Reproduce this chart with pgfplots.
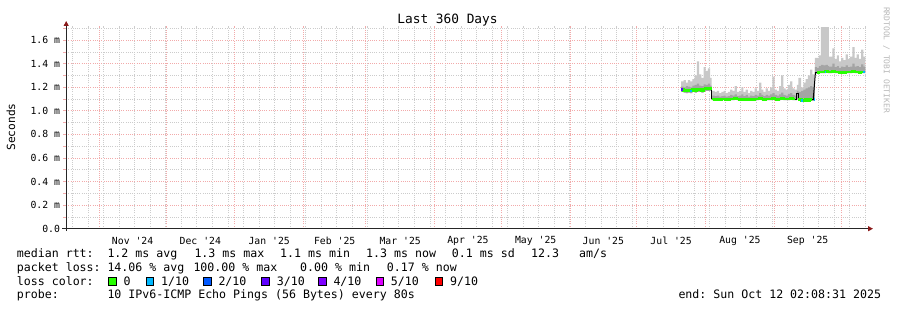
\documentclass[border=0pt]{standalone}
\usepackage{pgfplots}
\pgfplotsset{compat=1.18}
\usepackage{pgfplotstable}
\usepgfplotslibrary{fillbetween}
\usetikzlibrary{arrows.meta}
\usepackage{fontspec}
\setmonofont{DejaVu Sans Mono}
\renewcommand{\familydefault}{\ttdefault}

\definecolor{lzero}{HTML}{26FF00}
\definecolor{lone}{HTML}{00B8FF}
\definecolor{ltwo}{HTML}{0059FF}
\definecolor{lthree}{HTML}{5E00FF}
\definecolor{lfour}{HTML}{7E00FF}
\definecolor{lfive}{HTML}{DD00FF}
\definecolor{lnine}{HTML}{FF0000}
\definecolor{mgrid}{HTML}{F2AAAA}
\definecolor{mingrid}{HTML}{CCCCCC}
\definecolor{smokeL}{HTML}{C8C8C8}
\definecolor{smokeM}{HTML}{A4A4A4}
\definecolor{arrowc}{HTML}{8B1A1A}
\definecolor{wmark}{HTML}{B8B8B8}

\newcommand\lf{\fontsize{11.6bp}{13bp}\selectfont}
\newcommand\tf{\fontsize{9.8bp}{11bp}\selectfont}

% day 0 = 17 Oct 2024 02:08
\pgfplotstableread{
d lo med q hi
276.9 1.160 1.180 1.205 1.25
278 1.155 1.175 1.200 1.26
279 1.150 1.170 1.210 1.24
280 1.155 1.175 1.205 1.26
281 1.150 1.170 1.200 1.25
282 1.160 1.180 1.215 1.27
283 1.155 1.175 1.220 1.30
284 1.160 1.180 1.230 1.42
285 1.160 1.180 1.215 1.31
286 1.155 1.175 1.210 1.28
287 1.165 1.185 1.225 1.37
288 1.170 1.190 1.220 1.34
289 1.170 1.190 1.230 1.36
290 1.170 1.190 1.215 1.28
290.6 1.170 1.190 1.215 1.28
}\segA
\pgfplotstableread{
d lo med q hi
290.6 1.090 1.100 1.130 1.17
292 1.085 1.095 1.125 1.16
293 1.090 1.100 1.130 1.17
294 1.085 1.095 1.120 1.15
295 1.090 1.100 1.125 1.16
296 1.090 1.100 1.130 1.17
297 1.085 1.095 1.120 1.15
298 1.085 1.095 1.125 1.16
299 1.090 1.100 1.135 1.18
300 1.090 1.100 1.130 1.17
301 1.095 1.105 1.140 1.21
302 1.090 1.100 1.125 1.16
303 1.085 1.095 1.130 1.17
304 1.090 1.100 1.140 1.20
305 1.085 1.095 1.125 1.16
306 1.090 1.100 1.135 1.18
307 1.085 1.095 1.120 1.15
308 1.090 1.100 1.130 1.17
309 1.085 1.095 1.125 1.16
310 1.090 1.100 1.135 1.19
311 1.090 1.100 1.130 1.17
312 1.095 1.105 1.150 1.24
313 1.090 1.100 1.135 1.18
314 1.085 1.095 1.125 1.16
315 1.090 1.100 1.135 1.19
316 1.090 1.100 1.130 1.17
317 1.090 1.100 1.140 1.20
318 1.095 1.105 1.150 1.29
319 1.090 1.100 1.135 1.18
320 1.085 1.095 1.130 1.17
321 1.090 1.100 1.140 1.21
322 1.095 1.105 1.155 1.30
323 1.090 1.100 1.135 1.19
324 1.090 1.100 1.130 1.18
325 1.090 1.100 1.145 1.22
326 1.095 1.105 1.150 1.25
327 1.090 1.100 1.135 1.19
328 1.090 1.100 1.130 1.18
329 1.100 1.150 1.170 1.22
329.7 1.085 1.095 1.160 1.28
331 1.080 1.090 1.170 1.20
332 1.080 1.090 1.180 1.24
333 1.085 1.095 1.190 1.27
334 1.080 1.090 1.200 1.30
335 1.085 1.095 1.210 1.35
336 1.085 1.095 1.200 1.31
337.2 1.085 1.095 1.200 1.31
}\segB
\pgfplotstableread{
d lo med q hi
337.2 1.315 1.325 1.370 1.45
338 1.315 1.325 1.365 1.45
339 1.320 1.330 1.380 1.47
339.8 1.320 1.330 1.390 1.71
341 1.320 1.330 1.385 1.71
342 1.325 1.335 1.390 1.71
343 1.320 1.330 1.380 1.71
343.5 1.320 1.330 1.375 1.46
345 1.325 1.335 1.400 1.53
346 1.320 1.330 1.370 1.44
347 1.320 1.330 1.380 1.47
348 1.315 1.325 1.365 1.42
349 1.320 1.330 1.375 1.45
350 1.315 1.325 1.370 1.43
351 1.320 1.330 1.385 1.48
352 1.320 1.330 1.370 1.44
353 1.320 1.330 1.375 1.46
354 1.325 1.335 1.400 1.54
355 1.320 1.330 1.375 1.45
356 1.320 1.330 1.380 1.48
357 1.315 1.325 1.370 1.44
358 1.320 1.330 1.395 1.52
359 1.320 1.330 1.375 1.46
359.9 1.320 1.330 1.375 1.46
}\segC

\begin{document}
\begin{tikzpicture}[x=1bp,y=1bp]
\begin{axis}[
  at={(66.2bp,81.3bp)}, anchor=south west, scale only axis,
  width=799.4bp, height=202.7bp,
  xmin=0, xmax=360, ymin=0, ymax=1.72,
  axis lines=left, axis line style={draw=none},
  tick align=outside, major tick length=3bp,
  xtick={29.91,60.41,91.41,120.91,150.41,180.91,211.41,241.91,272.41,303.41,333.91},
  xticklabels={Nov '24,Dec '24,Jan '25,Feb '25,Mar '25,Apr '25,May '25,Jun '25,Jul '25,Aug '25,Sep '25},
  xtick style={draw=none},
  minor xtick={2.8,9.8,...,359.8},
  xmajorgrids=false, xminorgrids=true,
  extra x ticks={14.91,44.91,75.91,106.91,134.91,165.91,195.91,226.91,256.91,287.91,318.91,348.91},
  extra x tick labels={},
  extra x tick style={grid=major},
  ytick={0,0.2,0.4,0.6,0.8,1.0,1.2,1.4,1.6},
  yticklabels={0.0,0.2 m,0.4 m,0.6 m,0.8 m,1.0 m,1.2 m,1.4 m,1.6 m},
  minor ytick={0.1,0.3,0.5,0.7,0.9,1.1,1.3,1.5,1.7},
  ymajorgrids=true, yminorgrids=true,
  ytick style={draw=mgrid, line width=0.7bp},
  major grid style={draw=mgrid, dash pattern=on 1bp off 1.2bp, line width=0.7bp},
  minor grid style={draw=mingrid, dash pattern=on 1bp off 1.2bp, line width=0.7bp},
  xticklabel style={font=\tf, anchor=center, yshift=-8.8bp, inner sep=0pt},
  yticklabel style={font=\tf, anchor=east, inner sep=0pt, xshift=-3bp},
]
% smoke, segment A
\addplot[draw=none, const plot, name path=Ahi, forget plot] table[x=d,y=hi]{\segA};
\addplot[draw=none, const plot, name path=Aq, forget plot] table[x=d,y=q]{\segA};
\addplot[draw=none, const plot, name path=Alo, forget plot] table[x=d,y=lo]{\segA};
\addplot[fill=smokeL, draw=none] fill between[of=Ahi and Alo];
\addplot[fill=smokeM, draw=none] fill between[of=Aq and Alo];
% smoke, segment B
\addplot[draw=none, const plot, name path=Bhi, forget plot] table[x=d,y=hi]{\segB};
\addplot[draw=none, const plot, name path=Bq, forget plot] table[x=d,y=q]{\segB};
\addplot[draw=none, const plot, name path=Blo, forget plot] table[x=d,y=lo]{\segB};
\addplot[fill=smokeL, draw=none] fill between[of=Bhi and Blo];
\addplot[fill=smokeM, draw=none] fill between[of=Bq and Blo];
% smoke, segment C
\addplot[draw=none, const plot, name path=Chi, forget plot] table[x=d,y=hi]{\segC};
\addplot[draw=none, const plot, name path=Cq, forget plot] table[x=d,y=q]{\segC};
\addplot[draw=none, const plot, name path=Clo, forget plot] table[x=d,y=lo]{\segC};
\addplot[fill=smokeL, draw=none] fill between[of=Chi and Clo];
\addplot[fill=smokeM, draw=none] fill between[of=Cq and Clo];
% median, black
\addplot[black, line width=1bp, const plot] table[x=d,y=med]{\segA};
\addplot[black, line width=1bp, const plot] table[x=d,y=med]{\segB};
\addplot[black, line width=1bp, const plot] table[x=d,y=med]{\segC};
\addplot[black, line width=1bp] coordinates {(290.6,1.190) (290.6,1.100)};
\addplot[black, line width=1bp] coordinates {(336.4,1.095) (337.4,1.325)};
% median, coloured by loss
\addplot[lzero, line width=2.6bp, const plot] table[x=d,y=med]{\segA};
\addplot[lzero, line width=2.6bp, const plot] table[x=d,y=med, restrict x to domain=290.6:328.9]{\segB};
\addplot[lzero, line width=2.6bp, const plot] table[x=d,y=med, restrict x to domain=329.7:336.6]{\segB};
\addplot[lzero, line width=2.6bp, const plot] table[x=d,y=med, restrict x to domain=337.6:359.9]{\segC};
\addplot[lthree, line width=2.6bp] coordinates {(276.9,1.180) (277.6,1.180)};
\addplot[lone, line width=2.6bp] coordinates {(281.0,1.170) (281.6,1.170)};
\addplot[lone, line width=2.6bp] coordinates {(331.0,1.090) (331.8,1.090)};
\addplot[lone, line width=2.6bp] coordinates {(336.6,1.095) (337.2,1.095)};
\addplot[lone, line width=2.6bp] coordinates {(341.6,1.330) (342.2,1.330)};
\addplot[lone, line width=2.6bp] coordinates {(359.0,1.330) (359.9,1.330)};
\end{axis}
% axes with arrows
\draw[black!85, line width=1bp, -{Triangle[length=5bp,width=5bp,color=arrowc]}] (62,81.3) -- (873,81.3);
\draw[black!85, line width=1bp, -{Triangle[length=5bp,width=5bp,color=arrowc]}] (66.2,79) -- (66.2,289);
% title and labels
\node[font=\fontsize{12.8bp}{14bp}\selectfont, anchor=base] at (447.5,287) {Last 360 Days};
\node[font=\fontsize{11.2bp}{13bp}\selectfont, rotate=90] at (11,183) {Seconds};
\node[font=\fontsize{8bp}{9bp}\selectfont, rotate=-90, text=wmark] at (886.5,250) {RRDTOOL / TOBI OETIKER};
% legend
\begin{scope}[every node/.style={anchor=base west, inner sep=0pt, font=\lf}]
\node at (16.7,52.5) {median rtt:};
\node at (107.3,52.5) {1.2 ms avg};
\node at (194.3,52.5) {1.3 ms max};
\node at (280,52.5) {1.1 ms min};
\node at (366,52.5) {1.3 ms now};
\node at (451.7,52.5) {0.1 ms sd};
\node at (531,52.5) {12.3};
\node at (579,52.5) {am/s};
\node at (16.7,38.7) {packet loss:};
\node at (107.3,38.7) {14.06 \% avg};
\node at (193.3,38.7) {100.00 \% max};
\node at (300,38.7) {0.00 \% min};
\node at (386.7,38.7) {0.17 \% now};
\node at (16.7,24.7) {loss color:};
\node at (123.3,24.7) {0};
\node at (161,24.7) {1/10};
\node at (218.3,24.7) {2/10};
\node at (276.7,24.7) {3/10};
\node at (333.3,24.7) {4/10};
\node at (390.7,24.7) {5/10};
\node at (450,24.7) {9/10};
\node at (16.7,11.5) {probe:};
\node at (107.3,11.5) {10 IPv6-ICMP Echo Pings (56 Bytes) every 80s};
\node at (678.3,11.5) {end: Sun Oct 12 02:08:31 2025};
\end{scope}
\begin{scope}[line width=0.8bp]
\draw[fill=lzero] (108.3,24.6) rectangle ++(7.6,7.6);
\draw[fill=lone] (146,24.6) rectangle ++(7.6,7.6);
\draw[fill=ltwo] (203.3,24.6) rectangle ++(7.6,7.6);
\draw[fill=lthree] (261.7,24.6) rectangle ++(7.6,7.6);
\draw[fill=lfour] (318.3,24.6) rectangle ++(7.6,7.6);
\draw[fill=lfive] (376,24.6) rectangle ++(7.6,7.6);
\draw[fill=lnine] (435,24.6) rectangle ++(7.6,7.6);
\end{scope}
\pgfresetboundingbox
\path[use as bounding box] (0,0) rectangle (897,310);
\end{tikzpicture}
\end{document}
